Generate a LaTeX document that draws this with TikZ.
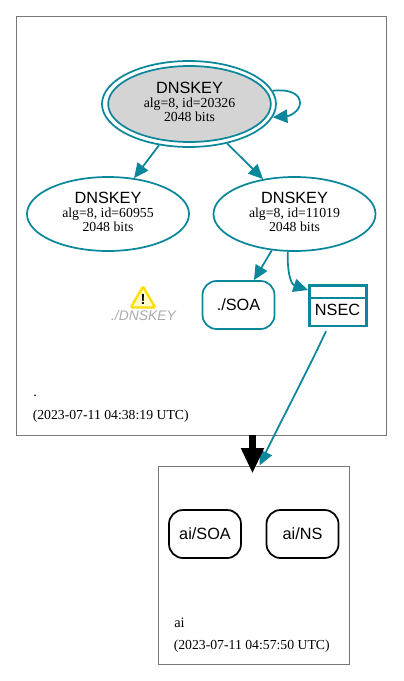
\documentclass[tikz,border=0pt]{standalone}
\usepackage{fontspec}
\setmainfont{Liberation Serif}
\setsansfont{Liberation Sans}
\usetikzlibrary{arrows.meta,shapes.geometric}
\definecolor{teal}{HTML}{0A879A}
\definecolor{zone}{HTML}{777777}
\tikzset{
  x=0.75pt,y=-0.75pt,
  zonebox/.style={draw=zone,line width=0.7pt,fill=white},
  keynode/.style={ellipse,draw=teal,line width=1.3pt,inner sep=0pt,align=center},
  rrnode/.style={rectangle,rounded corners=10.5pt,line width=1.3pt,inner sep=0pt,font=\sffamily\fontsize{12.2}{14}\selectfont},
  conn/.style={draw=teal,line width=1.3pt,-{Triangle[length=11pt,width=10pt]}},
  zonetext/.style={font=\fontsize{10.3}{11}\selectfont,anchor=base west,inner sep=0pt},
}
\newcommand{\keylabel}[2]{{\sffamily\fontsize{12.2}{13}\selectfont #1}\\[-1.5pt]{\fontsize{10.35}{10.5}\selectfont alg=8, id=#2}\\[-1.5pt]{\fontsize{10.35}{10.5}\selectfont 2048 bits\rule[-3pt]{0pt}{3pt}}}
\begin{document}
\begin{tikzpicture}
\useasboundingbox (0,0) rectangle (403,681);
\fill[white] (0,0) rectangle (403,681);
\node[zonebox,minimum width=277.5pt,minimum height=314.25pt,inner sep=0pt] (zoneroot) at (201,225.5) {};
\node[zonebox,minimum width=143.25pt,minimum height=148.5pt,inner sep=0pt] (zoneai) at (253.5,565) {};
\node[zonetext,font=\fontsize{10.8}{11}\selectfont] (dot) at (33,396) {.};
\node[zonetext] (roottime) at (32.5,419) {(2023-07-11 04:38:19 UTC)};
\node[zonetext,font=\fontsize{10.8}{11}\selectfont] (ainame) at (174,627) {ai};
\node[zonetext] (aitime) at (173.5,649) {(2023-07-11 04:57:50 UTC)};

\node[keynode,minimum width=130.5pt,minimum height=64.5pt] (kskouter) at (189,104) {};
\node[keynode,fill=black!17,minimum width=122pt,minimum height=57pt] (ksk) at (189.5,104) {\keylabel{DNSKEY}{20326}};
\node[keynode,minimum width=121.5pt,minimum height=55.5pt] (zska) at (108,214) {\keylabel{DNSKEY}{60955}};
\node[keynode,minimum width=121.5pt,minimum height=55.5pt] (zskb) at (294.5,214) {\keylabel{DNSKEY}{11019}};

\node[rrnode,draw=teal,minimum width=54pt,minimum height=36pt] (soa) at (238.5,305) {./SOA};
\node[draw=teal,line width=2pt,minimum width=43pt,minimum height=30.5pt,inner sep=0pt] (nsec) at (338,305.5) {};
\coordinate (nsecl) at (nsec.west |- 0,298);
\coordinate (nsecr) at (nsec.east |- 0,298);
\draw[teal,line width=2pt] (nsecl) -- (nsecr);
\node[font=\sffamily\fontsize{12.2}{14}\selectfont,inner sep=0pt] (nseclabel) at (337.5,310) {NSEC};
\node[rrnode,draw=black,minimum width=54pt,minimum height=36pt] (aisoa) at (205,534) {ai/SOA};
\node[rrnode,draw=black,minimum width=54pt,minimum height=36pt] (ains) at (302.5,534) {ai/NS};

\node[regular polygon,regular polygon sides=3,draw=yellow!80!orange,fill=yellow!20,line width=1.8pt,rounded corners=1pt,minimum size=21pt,inner sep=0pt] (warn) at (143,300.5) {};
\node[inner sep=0pt,font=\sffamily\bfseries\fontsize{11}{11}\selectfont] (warnmark) at (143,299.5) {!};
\node[inner sep=0pt,font=\sffamily\itshape\fontsize{10.4}{12}\selectfont,text=black!33] (warntext) at (143.5,315.5) {./DNSKEY};

\draw[conn] (kskouter.9) .. controls (288,89) and (300,93) .. (300,103) .. controls (300,111) and (290,116) .. (kskouter.-9);
\draw[conn] (kskouter.234) -- (zska.54);
\draw[conn] (kskouter.-46) -- (zskb.132);
\draw[conn] (zskb.238) -- ([xshift=11.6pt]soa.north);
\draw[conn] (zskb.260) .. controls (287,268) and (290,284) .. (nsec.west |- 0,290);
\coordinate (nsecout) at ([xshift=-9pt,yshift=-3pt]nsec.south);
\coordinate (aitarget) at ([xshift=4.5pt]zoneai.north);
\draw[conn] (nsecout) .. controls (310,366) and (279,425) .. (aitarget);
\coordinate (delegfrom) at ([xshift=-0.75pt]zoneai.north |- zoneroot.south);
\coordinate (delegto) at ([xshift=-0.75pt,yshift=-6pt]zoneai.north);
\draw[black,line width=5.8pt,-{Triangle[length=19pt,width=16pt]}] (delegfrom) -- (delegto);
\end{tikzpicture}
\end{document}
